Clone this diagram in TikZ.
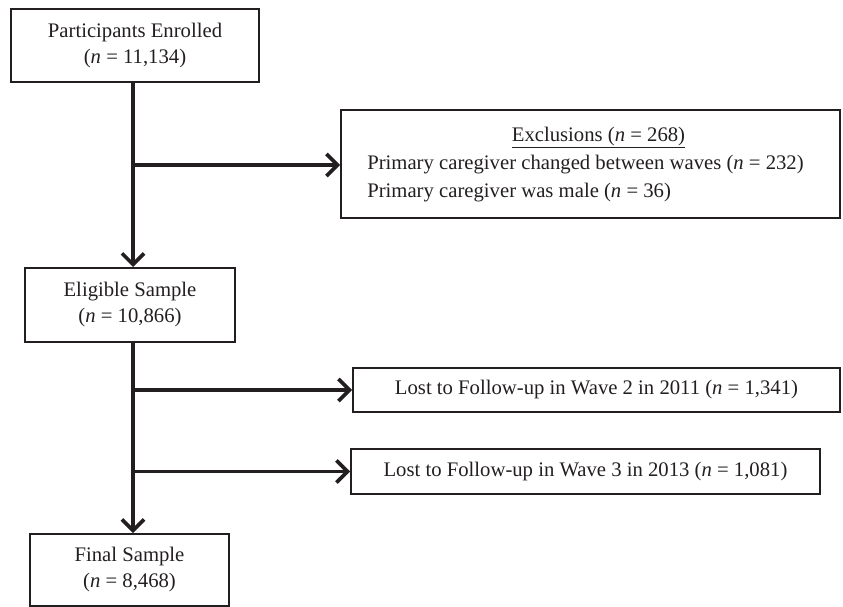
\documentclass[tikz,border=0pt]{standalone}
\usepackage{fontspec}
\setmainfont{Liberation Serif}
\usetikzlibrary{arrows.meta}
\definecolor{ink}{RGB}{35,31,32}
\begin{document}
\begin{tikzpicture}[x=1pt,y=-1pt,
  box/.style={draw=ink,line width=2pt,inner sep=0pt,align=center,text=ink,
    font=\fontsize{20.7}{26}\selectfont},
  conn/.style={draw=ink,line width=3.6pt,-{Straight Barb[length=11pt,width=22pt]}}]
\useasboundingbox (0,0) rectangle (843,607);
% boxes
\node[box,minimum width=248pt,minimum height=73pt] (p1) at (135,45.5)
  {Participants Enrolled\\(\textit{n} = 11,134)};
\node[box,minimum width=499pt,minimum height=108pt] (excl) at (590.5,164)
  {\renewcommand{\arraystretch}{1.08}%
   \begin{tabular}{@{}l@{}}
   \multicolumn{1}{@{\hspace{26pt}}c@{}}{\underline{Exclusions (\textit{n} = 268)}}\\
   Primary caregiver changed between waves (\textit{n} = 232)\\
   Primary caregiver was male (\textit{n} = 36)
   \end{tabular}\hspace{10pt}};
\node[box,minimum width=210pt,minimum height=74pt] (elig) at (130,305)
  {Eligible Sample\\(\textit{n} = 10,866)};
\node[box,minimum width=487pt,minimum height=44pt] (lost1) at (596.5,390)
  {Lost to Follow-up in Wave 2 in 2011 (\textit{n} = 1,341)};
\node[box,minimum width=469pt,minimum height=45pt] (lost2) at (585.5,471.5)
  {Lost to Follow-up in Wave 3 in 2013 (\textit{n} = 1,081)};
\node[box,minimum width=199pt,minimum height=72pt] (final) at (129.5,570)
  {Final Sample\\(\textit{n} = 8,468)};
% trunk coordinates
\coordinate (t) at (133,0);
\coordinate (b1) at (133,165);
\coordinate (b2) at (133,390);
\coordinate (b3) at (133,471.5);
% connectors
\draw[conn] (p1.south -| t) -- (elig.north -| t);
\draw[conn] (b1) -- (excl.west |- b1);
\draw[conn] (elig.south -| t) -- (final.north -| t);
\draw[conn] (b2) -- (lost1.west |- b2);
\draw[conn] (b3) -- (lost2.west |- b3);
\end{tikzpicture}
\end{document}
